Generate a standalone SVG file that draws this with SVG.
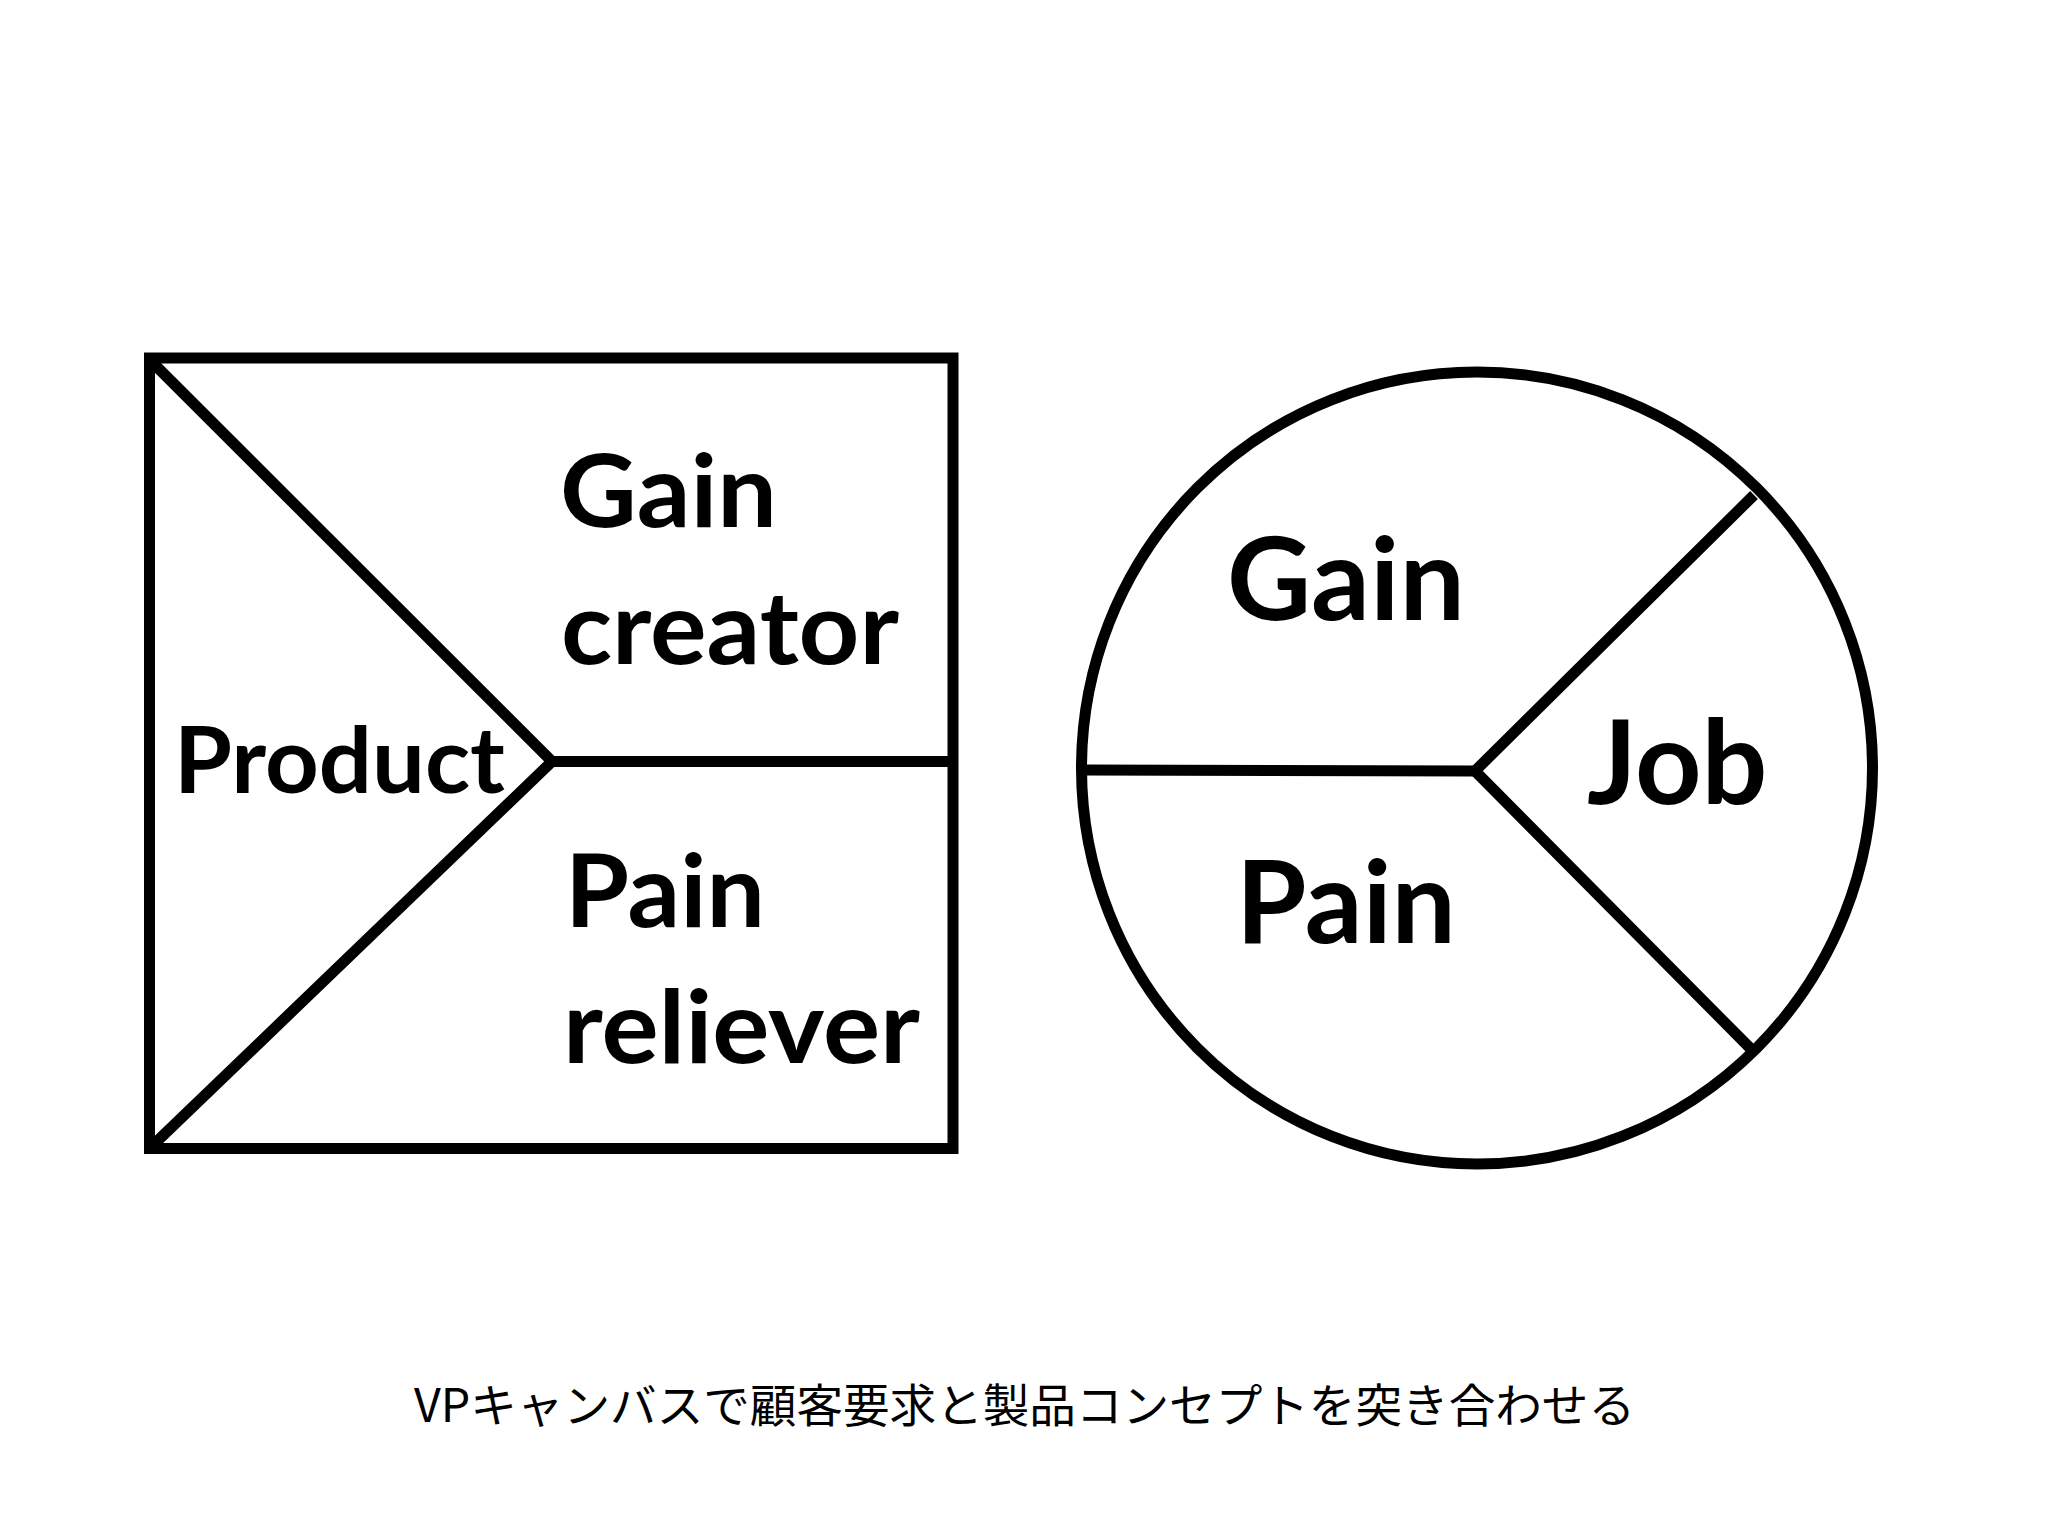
<svg xmlns="http://www.w3.org/2000/svg" width="2048" height="1536" viewBox="0 0 2048 1536">
<style>
.ln{fill:none;stroke:#000;stroke-width:11;stroke-linejoin:miter}
.lb{font-family:Lato,"Open Sans","Noto Sans",sans-serif;font-weight:bold;fill:#000}
.cap{font-family:"Noto Sans CJK JP","Noto Sans",sans-serif;font-size:46px;fill:#000}
</style>
<rect width="2048" height="1536" fill="#fff"/>
<g id="value-map">
<rect class="ln" x="149.5" y="358" width="803.5" height="790.5"/>
<text class="lb" x="560" y="527" font-size="102" textLength="217" lengthAdjust="spacingAndGlyphs">Gain</text>
<text class="lb" x="561" y="664" font-size="102" textLength="338" lengthAdjust="spacingAndGlyphs">creator</text>
<text class="lb" x="174" y="793" font-size="92" textLength="331" lengthAdjust="spacingAndGlyphs">Product</text>
<text class="lb" x="565" y="927" font-size="102" textLength="200" lengthAdjust="spacingAndGlyphs">Pain</text>
<text class="lb" x="563" y="1063" font-size="102" textLength="357" lengthAdjust="spacingAndGlyphs">reliever</text>
</g>
<g id="customer-profile">
<ellipse class="ln" cx="1477" cy="768" rx="395.5" ry="396" stroke-width="12"/>
<text class="lb" x="1227" y="620" font-size="114" textLength="238" lengthAdjust="spacingAndGlyphs">Gain</text>
<text class="lb" x="1587" y="804" font-size="116">Job</text>
<text class="lb" x="1236" y="943" font-size="114">Pain</text>
</g>
<g id="connectors">
<path class="ln" d="M150,360 L552,761.5 L150,1148"/>
<path class="ln" d="M552,761.5 H953"/>
<path class="ln" d="M1082,770 L1475,771"/>
<path class="ln" d="M1754,495 L1475,771 L1754,1052"/>
</g>
<g id="caption">
<text class="cap" x="414" y="1422" textLength="1221" lengthAdjust="spacingAndGlyphs">VPキャンバスで顧客要求と製品コンセプトを突き合わせる</text>
</g>
</svg>
